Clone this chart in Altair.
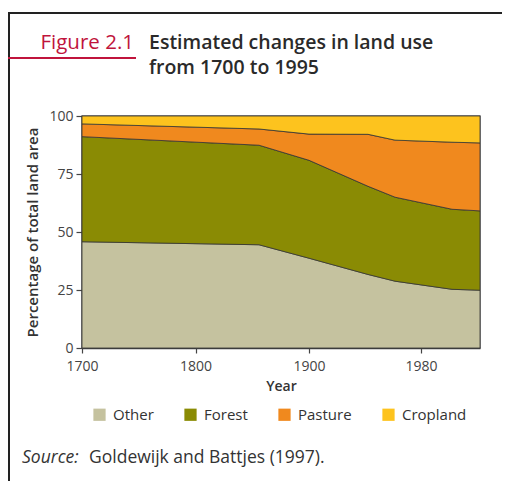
import altair as alt
import pandas as pd

years = [1700, 1850, 1900, 1950, 1970, 1990, 1995]
categories = ["Other", "Forest", "Pasture", "Cropland"]
other = [45.8, 44.5, 38.7, 31.7, 28.8, 25.3, 24.9]
forest = [45.3, 42.9, 42.2, 38.0, 36.2, 34.5, 34.2]
pasture = [5.5, 7.0, 11.3, 22.4, 24.6, 28.9, 29.3]
cropland = [3.4, 5.6, 7.8, 7.9, 10.4, 11.3, 11.6]
colors = ["#c5c29f", "#8a8b04", "#f0891e", "#fdc31e"]
x_ticks = [1700, 1800, 1900, 1980]
y_ticks = [0, 25, 50, 75, 100]
# the printed year axis is not linear: breakpoints of the drawn scale
x_domain = [1700, 1800, 1850, 1900, 1950, 1970, 1980, 1990, 1995]
x_range = [0, 113.5, 177, 227, 286, 313, 339, 370, 398]

rows = []
series = [other, forest, pasture, cropland]
for i, y in enumerate(years):
    lo = 0.0
    for c, s in zip(categories, series):
        hi = lo + s[i]
        rows.append({"year": y, "category": c, "share": s[i], "lo": lo, "hi": hi})
        lo = hi
df = pd.DataFrame(rows)

FONT = "Open Sans"
W, H = 398, 232

areas = alt.Chart(df).mark_area(stroke="#333333", strokeWidth=0.8, opacity=1).encode(
    x=alt.X("year:Q", title="Year",
            scale=alt.Scale(domain=x_domain, range=x_range, zero=False, nice=False),
            axis=alt.Axis(values=x_ticks, format="d", grid=False, tickSize=5,
                          labelFlush=False, labelPadding=6, titlePadding=6)),
    y=alt.Y("hi:Q", title="Percentage of total land area",
            scale=alt.Scale(domain=[0, 100], nice=False),
            axis=alt.Axis(values=y_ticks, grid=False, tickSize=6, labelPadding=3,
                          labelFlush=False, titlePadding=8, titleFontSize=15)),
    y2="lo:Q",
    color=alt.Color("category:N", sort=categories,
                    scale=alt.Scale(domain=categories, range=colors),
                    legend=alt.Legend(orient="none", direction="horizontal", title=None,
                                      legendX=10, legendY=291, symbolType="square",
                                      symbolSize=150, symbolStrokeWidth=0,
                                      labelFontSize=15, labelColor="#333333",
                                      labelFont=FONT, columnPadding=29,
                                      labelOffset=6, padding=0, symbolOpacity=1)),
)

one = pd.DataFrame({"k": [0]})

def txt(s, x, y, **kw):
    return alt.Chart(one).mark_text(text=s, font=FONT, baseline="alphabetic", **kw).encode(
        x=alt.value(x), y=alt.value(y))

def rule(x, x2, y, color="#222222", w=2):
    return alt.Chart(one).mark_rule(color=color, strokeWidth=w).encode(
        x=alt.value(x), x2=alt.value(x2), y=alt.value(y))

frame_top = rule(-74, 430, -103)
frame_left = alt.Chart(one).mark_rule(color="#222222", strokeWidth=2).encode(
    x=alt.value(-73), y=alt.value(-104), y2=alt.value(370))
red_line = rule(-74, 54, -58, color="#c0143c", w=2)
fig_label = txt("Figure 2.1", 52, -67, align="right", fontSize=20.5, color="#c0143c")
title1 = txt("Estimated changes in land use", 67, -67, align="left", fontSize=19.5,
             fontWeight=600, color="#2a2a2a")
title2 = txt("from 1700 to 1995", 67, -42, align="left", fontSize=19.5,
             fontWeight=600, color="#2a2a2a")
src1 = txt("Source:", -60, 347, align="left", fontSize=17.5, fontStyle="italic", color="#333333")
src2 = txt("Goldewijk and Battjes (1997).", 7, 347, align="left", fontSize=17.5, color="#333333")

chart = alt.layer(areas, frame_top, frame_left, red_line, fig_label, title1, title2,
                  src1, src2).properties(
    width=W, height=H,
    autosize=alt.AutoSizeParams(type="none"),
    padding={"left": 74, "top": 108, "right": 22, "bottom": 133},
).configure_view(stroke="#666666", strokeWidth=1.5).configure_axis(
    labelFont=FONT, titleFont=FONT, labelFontSize=14, titleFontSize=14,
    labelColor="#444444", titleColor="#333333", titleFontWeight=600,
    domainColor="#444444", domainWidth=1.5, tickColor="#444444", tickWidth=1.2,
)

chart.save("out.html", embed_options={"renderer": "svg", "actions": False})
